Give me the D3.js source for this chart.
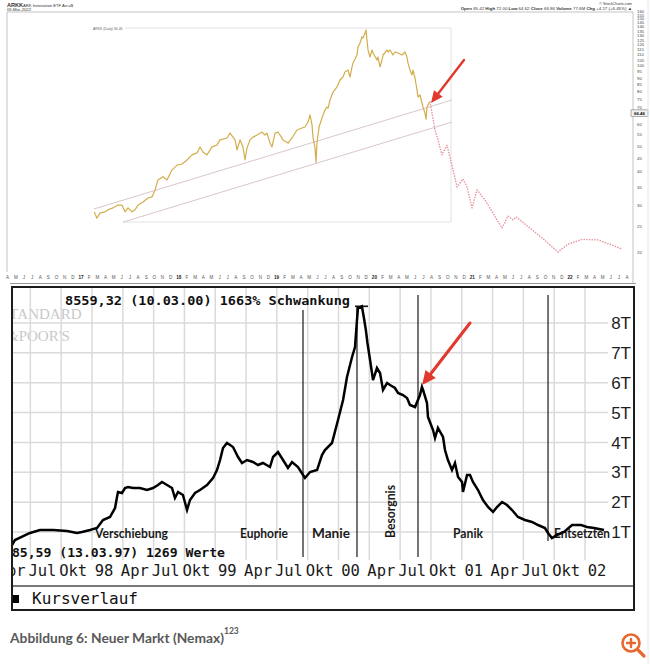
<!DOCTYPE html>
<html><head><meta charset="utf-8">
<script src="https://cdn.jsdelivr.net/npm/d3@7"></script>
<style>body{margin:0;background:#fff}svg{display:block}</style>
</head><body>
<svg id="c" width="650" height="664"></svg>
<script>
// ================= DATA =================
// --- Top chart: ARKK (daily close) [decimal year, price] ---
const arkkPrices = [
 [2017.136,28.3],[2017.161,26.8],[2017.194,28.0],[2017.245,28.3],[2017.276,28.8],[2017.327,29.3],
 [2017.378,30.0],[2017.419,30.0],[2017.450,28.3],[2017.481,29.3],[2017.521,28.3],[2017.552,28.8],
 [2017.583,30.0],[2017.634,30.8],[2017.685,31.9],[2017.726,32.2],[2017.757,34.2],[2017.787,37.3],
 [2017.838,38.3],[2017.879,37.3],[2017.930,40.6],[2017.982,42.4],[2018.033,42.8],[2018.084,44.3],
 [2018.135,46.3],[2018.186,47.1],[2018.217,49.6],[2018.247,47.5],[2018.288,46.3],[2018.339,49.6],
 [2018.391,50.4],[2018.421,52.7],[2018.493,53.6],[2018.524,55.9],[2018.575,52.7],[2018.595,48.3],
 [2018.626,52.7],[2018.656,49.6],[2018.677,44.3],[2018.697,49.1],[2018.728,52.7],[2018.759,54.0],
 [2018.800,55.0],[2018.851,56.4],[2018.881,55.0],[2018.902,55.9],[2018.933,51.3],[2018.953,49.6],
 [2018.984,55.9],[2019.014,56.4],[2019.035,55.0],[2019.065,52.7],[2019.117,51.3],[2019.157,53.6],
 [2019.209,57.4],[2019.260,58.4],[2019.290,58.9],[2019.321,61.5],[2019.342,65.4],[2019.362,60.0],
 [2019.372,54.0],[2019.393,49.1],[2019.403,43.5],[2019.413,51.3],[2019.434,58.9],[2019.464,63.7],
 [2019.495,68.2],[2019.515,70.0],[2019.526,69.4],[2019.546,74.4],[2019.577,79.7],[2019.618,83.3],
 [2019.648,88.5],[2019.679,90.8],[2019.699,94.8],[2019.730,96.4],[2019.751,90.8],[2019.771,99.0],
 [2019.781,102.4],[2019.822,109.8],[2019.832,117.6],[2019.853,121.8],[2019.873,128.3],[2019.883,127.2],
 [2019.904,132.8],[2019.914,136.3],[2019.924,125.0],[2019.935,114.6],[2019.955,107.9],[2019.975,114.6],
 [2019.986,111.7],[2020.027,105.1],[2020.037,107.9],[2020.057,99.0],[2020.078,105.1],[2020.088,109.8],
 [2020.129,114.6],[2020.139,112.7],[2020.160,114.6],[2020.190,109.8],[2020.211,112.7],[2020.241,111.7],
 [2020.282,109.8],[2020.313,112.7],[2020.333,107.9],[2020.344,102.4],[2020.364,96.4],[2020.384,92.4],
 [2020.395,96.4],[2020.415,90.0],[2020.436,81.1],[2020.446,76.4],[2020.466,77.7],[2020.487,72.5],
 [2020.497,70.0],[2020.517,66.5],[2020.528,63.0],[2020.538,70.0],[2020.558,72.5],[2020.569,73.1]
];
// projected path (dotted)
const arkkProjection = [
 [2020.569,73.1],[2020.620,57.4],[2020.650,52.7],[2020.691,46.3],[2020.742,50.4],[2020.793,42.4],
 [2020.845,35.1],[2020.906,37.6],[2020.947,35.1],[2020.998,29.3],[2021.049,34.2],[2021.131,31.35],
 [2021.305,24.6],[2021.366,27.3],[2021.417,26.4],[2021.448,27.1],[2021.714,22.6],[2021.877,20.0],
 [2021.980,21.4],[2022.123,22.3],[2022.286,22.2],[2022.430,21.25],[2022.532,20.5]
];
const trendUpper = [[2017.133,29.0],[2020.793,74.4]];
const trendLower = [[2017.429,25.9],[2020.793,61.5]];
const arkkYTicks = [160,155,150,145,140,135,130,125,120,115,110,105,100,95,90,85,80,75,70,60,55,50,45,40,35,30,25,20];
const arkkMonthLabels = ("A M J J A S O N D 17 F M A M J J A S O N D 18 F M A M J J A S O N D 19 " +
  "F M A M J J A S O N D 20 F M A M J J A S O N D 21 F M A M J J A S O N D 22 F M A M J J A").split(" ");
const arkkFirstMonth = 2016.25;
const arkkLast = 66.46;
const arkkArrow = {from:[2020.916,105.1], to:[2020.579,72.5]};

// --- Bottom chart: Neuer Markt (Nemax) [decimal year, index points] ---
const nemaxValues = [
 [1997.197,486],[1997.351,565],[1997.375,732],[1997.497,967],[1997.578,1067],[1997.684,1067],
 [1997.797,1033],[1997.878,967],[1997.919,1000],[1997.984,1067],[1998.041,1134],[1998.089,1402],
 [1998.146,1502],[1998.187,1804],[1998.203,2172],[1998.211,2340],[1998.243,2306],[1998.268,2474],
 [1998.292,2507],[1998.333,2474],[1998.389,2474],[1998.446,2407],[1998.495,2474],[1998.535,2574],
 [1998.568,2675],[1998.609,2574],[1998.649,2474],[1998.673,2139],[1998.698,2340],[1998.738,2239],
 [1998.771,1737],[1998.795,2072],[1998.836,2306],[1998.876,2407],[1998.933,2574],[1998.982,2808],
 [1999.014,3076],[1999.039,3411],[1999.063,3813],[1999.095,3981],[1999.120,3914],[1999.144,3847],
 [1999.185,3512],[1999.217,3311],[1999.258,3411],[1999.306,3344],[1999.347,3244],[1999.387,3311],
 [1999.444,3177],[1999.469,3512],[1999.509,3679],[1999.550,3411],[1999.590,3143],[1999.623,3344],
 [1999.671,3177],[1999.728,2808],[1999.769,3009],[1999.826,3076],[1999.866,3579],[1999.890,3746],
 [1999.947,3981],[1999.996,4751],[2000.037,5421],[2000.069,6191],[2000.110,6861],[2000.134,7196],
 [2000.150,8100],[2000.158,8502],[2000.190,8559],[2000.205,8200],[2000.222,7765],[2000.235,7330],
 [2000.256,6760],[2000.280,6090],[2000.312,6492],[2000.337,6325],[2000.361,5756],[2000.394,5990],
 [2000.418,5923],[2000.458,5823],[2000.483,5655],[2000.523,5588],[2000.556,5488],[2000.580,5253],
 [2000.621,5186],[2000.661,5588],[2000.677,5856],[2000.686,5756],[2000.718,5320],[2000.726,4851],
 [2000.767,4416],[2000.783,4148],[2000.807,4483],[2000.848,4182],[2000.864,3746],[2000.888,3411],
 [2000.921,3076],[2000.945,3311],[2000.970,2842],[2001.002,2675],[2001.010,2340],[2001.043,2909],
 [2001.067,2909],[2001.091,2675],[2001.132,2407],[2001.172,2072],[2001.213,1837],[2001.254,1670],
 [2001.286,1837],[2001.327,2005],[2001.367,1904],[2001.408,1737],[2001.456,1502],[2001.513,1402],
 [2001.570,1335],[2001.619,1234],[2001.675,1134],[2001.700,967],[2001.732,799],[2001.773,900],
 [2001.830,1000],[2001.895,1234],[2001.968,1234],[2002.016,1167],[2002.073,1134],[2002.154,1067]
];
const nemaxYTicks = [1000,2000,3000,4000,5000,6000,7000,8000];
const nemaxYLabels = ["1T","2T","3T","4T","5T","6T","7T","8T"];
const nemaxQuarters = [1997.25,1997.5,1997.75,1998,1998.25,1998.5,1998.75,1999,1999.25,1999.5,1999.75,
  2000,2000.25,2000.5,2000.75,2001,2001.25,2001.5,2001.75,2002];
const nemaxQuarterLabels = ["Apr","Jul","Okt","98","Apr","Jul","Okt","99","Apr","Jul","Okt",
  "00","Apr","Jul","Okt","01","Apr","Jul","Okt","02"];
const nemaxEvents = [ // phase boundaries [year, top value, bottom value]
  [1999.712,8435,163],[2000.150,8559,163],[2000.645,8937,163],[2001.700,8937,700]];
const nemaxPeak = {from:2000.134, to:2000.240, value:8559};
const phaseNames = ["Verschiebung","Euphorie","Manie","Besorgnis","Panik","Entsetzten"];
const nemaxArrow = {from:[2001.067,8000], to:[2000.678,5923]};

// ================= DRAW =================
const svg = d3.select("#c");
const defs = svg.append("defs");
const RED = "#e2392d";

function arrow(g, x1, y1, x2, y2, hl, hw, sw) {
  const dx = x2-x1, dy = y2-y1, L = Math.hypot(dx,dy), ux = dx/L, uy = dy/L;
  const bx = x2-ux*hl, by = y2-uy*hl;
  g.append("line").attr("x1",x1).attr("y1",y1).attr("x2",bx+ux*2).attr("y2",by+uy*2)
    .attr("stroke",RED).attr("stroke-width",sw).attr("stroke-linecap","round");
  g.append("polygon").attr("fill",RED)
    .attr("points",[[x2,y2],[bx-uy*hw,by+ux*hw],[bx+uy*hw,by-ux*hw]].map(p=>p.join(",")).join(" "));
}

// ---------- TOP CHART ----------
const xT = d3.scaleLinear().domain([2017,2022]).range([81,570]);
const yT = d3.scaleLog().domain([50,20]).range([146,252]);
const topG = svg.append("g");
const frameC = "#c4c4c4";
topG.append("line").attr("x1",7).attr("y1",12).attr("x2",633).attr("y2",12).attr("stroke",frameC);
topG.append("line").attr("x1",7).attr("y1",12).attr("x2",7).attr("y2",272).attr("stroke",frameC);
topG.append("line").attr("x1",633).attr("y1",12).attr("x2",633).attr("y2",283).attr("stroke",frameC);
topG.append("line").attr("x1",10).attr("y1",283.5).attr("x2",636).attr("y2",283.5).attr("stroke","#999");

// header
const hdr = topG.append("g").attr("font-family","Liberation Sans, Arial, sans-serif").attr("fill","#333");
hdr.append("text").attr("x",7).attr("y",6.5).attr("font-size",5.6).attr("font-weight","bold").text("ARKK");
hdr.append("text").attr("x",23).attr("y",6.5).attr("font-size",4.2).text("ARK Innovation ETF  Arca$");
hdr.append("text").attr("x",7).attr("y",11).attr("font-size",4.2).text("05-Mar-2022");
hdr.append("text").attr("x",632).attr("y",4.5).attr("font-size",3.8).attr("text-anchor","end").text("© StockCharts.com");
const ohlc = hdr.append("text").attr("x",632).attr("y",10.3).attr("font-size",4.4).attr("text-anchor","end");
[["Open"," 65.42  "],["High"," 72.00  "],["Low"," 64.62  "],["Close"," 66.86  "],["Volume"," 77.6M  "],["Chg"," +4.17 (+6.45%) ▲"]]
 .forEach(([a,b])=>{ohlc.append("tspan").attr("font-weight","bold").text(a);ohlc.append("tspan").text(b);});

// inner pasted-box outline
const boxC = "#e2e2e2";
topG.append("line").attr("x1",125).attr("y1",28).attr("x2",451).attr("y2",28).attr("stroke",boxC);
topG.append("line").attr("x1",451).attr("y1",28).attr("x2",451).attr("y2",222).attr("stroke",boxC);
topG.append("line").attr("x1",123).attr("y1",222).attr("x2",451).attr("y2",222).attr("stroke",boxC);
topG.append("text").attr("x",93).attr("y",30).attr("font-size",3.4).attr("fill","#666")
  .attr("font-family","Liberation Sans, Arial, sans-serif").text("ARKK (Daily) 66.46");

// y ticks
const yax = topG.append("g").attr("font-family","Liberation Sans, Arial, sans-serif").attr("font-size",4.3).attr("fill","#444");
arkkYTicks.forEach(v=>{
  yax.append("text").attr("x",637).attr("y",yT(v)).attr("dy","0.35em").text(v);
});
topG.append("rect").attr("x",631).attr("y",yT(arkkLast)-3.2).attr("width",17).attr("height",6.4)
  .attr("fill","#f2f2f2").attr("stroke","#777").attr("stroke-width",0.6);
topG.append("text").attr("x",639.5).attr("y",yT(arkkLast)).attr("dy","0.35em").attr("text-anchor","middle")
  .attr("font-size",4.3).attr("font-weight","bold").attr("font-family","Liberation Sans, Arial, sans-serif").text(arkkLast.toFixed(2));

// month labels
const mx = topG.append("g").attr("font-family","Liberation Sans, Arial, sans-serif").attr("font-size",4.6).attr("text-anchor","middle");
arkkMonthLabels.forEach((l,i)=>{
  mx.append("text").attr("x",xT(arkkFirstMonth+i/12)).attr("y",279)
    .attr("font-weight",/\d/.test(l)?"bold":"normal").attr("fill",/\d/.test(l)?"#222":"#555").text(l);
});

// trend lines
const lineT = d3.line().x(d=>xT(d[0])).y(d=>yT(d[1]));
[trendUpper,trendLower].forEach(t=>{
  topG.append("path").attr("d",lineT(t)).attr("fill","none").attr("stroke","#d9c6cb").attr("stroke-width",1);
});
// price
topG.append("path").attr("d",lineT(arkkPrices)).attr("fill","none").attr("stroke","#d2ad4b")
  .attr("stroke-width",1.2).attr("stroke-linejoin","round");
// projection
topG.append("path").attr("d",lineT(arkkProjection)).attr("fill","none").attr("stroke","#e79aa2")
  .attr("stroke-width",1.6).attr("stroke-dasharray","0.1 2.6").attr("stroke-linecap","round");
arrow(topG, xT(arkkArrow.from[0]),yT(arkkArrow.from[1]),xT(arkkArrow.to[0]),yT(arkkArrow.to[1]),12,5.5,2.4);

// ---------- BOTTOM CHART ----------
const xN = d3.scaleLinear().domain([1998,2002]).range([92,585]);
const yN = d3.scaleLinear().domain([1000,8000]).range([532,323]);
const bot = svg.append("g");
defs.append("clipPath").attr("id","clipN").append("rect").attr("x",12).attr("y",288).attr("width",622).attr("height",322);
const inner = bot.append("g").attr("clip-path","url(#clipN)");

// watermark
const wm = inner.append("g").attr("font-family","Liberation Serif, serif").attr("font-size",15).attr("fill","#c9c9c9");
wm.append("text").attr("x",1).attr("y",319).text("STANDARD");
wm.append("text").attr("x",7).attr("y",341).text("&POOR'S");

// grid
const gridC = "#dadada";
nemaxQuarters.filter(q=>q>=1997.5).forEach(q=>{
  inner.append("line").attr("x1",xN(q)).attr("x2",xN(q)).attr("y1",288).attr("y2",560)
    .attr("stroke",gridC).attr("stroke-width",1.5);
});
nemaxYTicks.forEach(v=>{
  inner.append("line").attr("x1",12).attr("x2",608).attr("y1",yN(v)).attr("y2",yN(v))
    .attr("stroke",gridC).attr("stroke-width",1.5);
});
// event lines
nemaxEvents.forEach(([yr,t,b])=>{
  inner.append("line").attr("x1",xN(yr)).attr("x2",xN(yr)).attr("y1",yN(t)).attr("y2",yN(b))
    .attr("stroke","#2a2a2a").attr("stroke-width",1.3);
});
// peak bar
inner.append("line").attr("x1",xN(nemaxPeak.from)).attr("x2",xN(nemaxPeak.to))
  .attr("y1",yN(nemaxPeak.value)).attr("y2",yN(nemaxPeak.value)).attr("stroke","#111").attr("stroke-width",1.6);

// y labels
const yl = inner.append("g").attr("font-family","Liberation Sans, Arial, sans-serif").attr("font-size",17).attr("fill","#1e1e1e").attr("text-anchor","end");
nemaxYTicks.forEach((v,i)=>{
  yl.append("text").attr("x",631).attr("y",yN(v)).attr("dy","0.36em").text(nemaxYLabels[i]);
});

// phase labels
const ph = inner.append("g").attr("font-family","Lato, 'Open Sans', sans-serif").attr("font-weight","bold")
  .attr("font-size",12.5).attr("fill","#1a1a1a");
const phPos = [[95,73],[240,48],[312,38],[null,53],[453,30],[554,56]];
phaseNames.forEach((n,i)=>{
  if (n==="Besorgnis") {
    ph.append("text").attr("transform","translate(395,538) rotate(-90)").attr("textLength",53)
      .attr("lengthAdjust","spacingAndGlyphs").text(n);
  } else {
    ph.append("text").attr("x",phPos[i][0]).attr("y",538).attr("textLength",phPos[i][1])
      .attr("lengthAdjust","spacingAndGlyphs").text(n);
  }
});

// data line
const lineN = d3.line().x(d=>xN(d[0])).y(d=>yN(d[1]));
inner.append("path").attr("d",lineN(nemaxValues)).attr("fill","none").attr("stroke","#000")
  .attr("stroke-width",2.5).attr("stroke-linejoin","miter");

// mono texts
const mono = inner.append("g").attr("font-family","DejaVu Sans Mono, monospace").attr("fill","#111");
mono.append("text").attr("x",65).attr("y",305).attr("font-size",13).attr("font-weight","bold")
  .attr("textLength",285).attr("lengthAdjust","spacingAndGlyphs").text("8559,32 (10.03.00) 1663%  Schwankung");
mono.append("text").attr("x",4).attr("y",557).attr("font-size",13).attr("font-weight","bold")
  .attr("textLength",221).attr("lengthAdjust","spacingAndGlyphs").text("485,59 (13.03.97) 1269 Werte");

// x labels
const xl = inner.append("g").attr("font-family","DejaVu Sans Mono, monospace").attr("font-size",15.5)
  .attr("fill","#1a1a1a").attr("text-anchor","middle");
nemaxQuarters.forEach((q,i)=>{
  xl.append("text").attr("x",xN(q)+12).attr("y",576).text(nemaxQuarterLabels[i]);
});

// separator + legend
bot.append("line").attr("x1",12).attr("x2",634).attr("y1",586).attr("y2",586).attr("stroke","#7a7a7a").attr("stroke-width",2);
bot.append("rect").attr("x",12).attr("y",595).attr("width",7).attr("height",8).attr("fill","#000");
bot.append("text").attr("x",32).attr("y",604).attr("font-family","DejaVu Sans Mono, monospace")
  .attr("font-size",16).attr("fill","#111").text("Kursverlauf");

// frame
bot.append("rect").attr("x",12).attr("y",287).attr("width",622).attr("height",323)
  .attr("fill","none").attr("stroke","#1c1c1c").attr("stroke-width",2);

arrow(bot, xN(nemaxArrow.from[0]),yN(nemaxArrow.from[1]),xN(nemaxArrow.to[0]),yN(nemaxArrow.to[1]),14,6.5,3);

// caption
const cap = svg.append("text").attr("x",10).attr("y",643).attr("font-family","Lato, 'Open Sans', sans-serif")
  .attr("font-weight","bold").attr("font-size",13).attr("fill","#595959");
cap.append("tspan").attr("textLength",214).attr("lengthAdjust","spacingAndGlyphs").text("Abbildung 6: Neuer Markt (Nemax)");
svg.append("text").attr("x",224).attr("y",634).attr("font-family","Lato, 'Open Sans', sans-serif")
  .attr("font-weight","bold").attr("font-size",8.5).attr("fill","#595959").text("123");

// zoom icon
const ic = svg.append("g").attr("stroke","#e8692f").attr("fill","none").attr("stroke-linecap","round");
ic.append("circle").attr("cx",631).attr("cy",643).attr("r",8.5).attr("stroke-width",2.6);
ic.append("line").attr("x1",637.5).attr("y1",649.5).attr("x2",644).attr("y2",656).attr("stroke-width",3.2);
ic.append("line").attr("x1",627).attr("y1",643).attr("x2",635).attr("y2",643).attr("stroke-width",2.4);
ic.append("line").attr("x1",631).attr("y1",639).attr("x2",631).attr("y2",647).attr("stroke-width",2.4);
svg.append("line").attr("x1",648).attr("x2",648).attr("y1",0).attr("y2",664).attr("stroke","#e6e6e6");
</script>
</body></html>
